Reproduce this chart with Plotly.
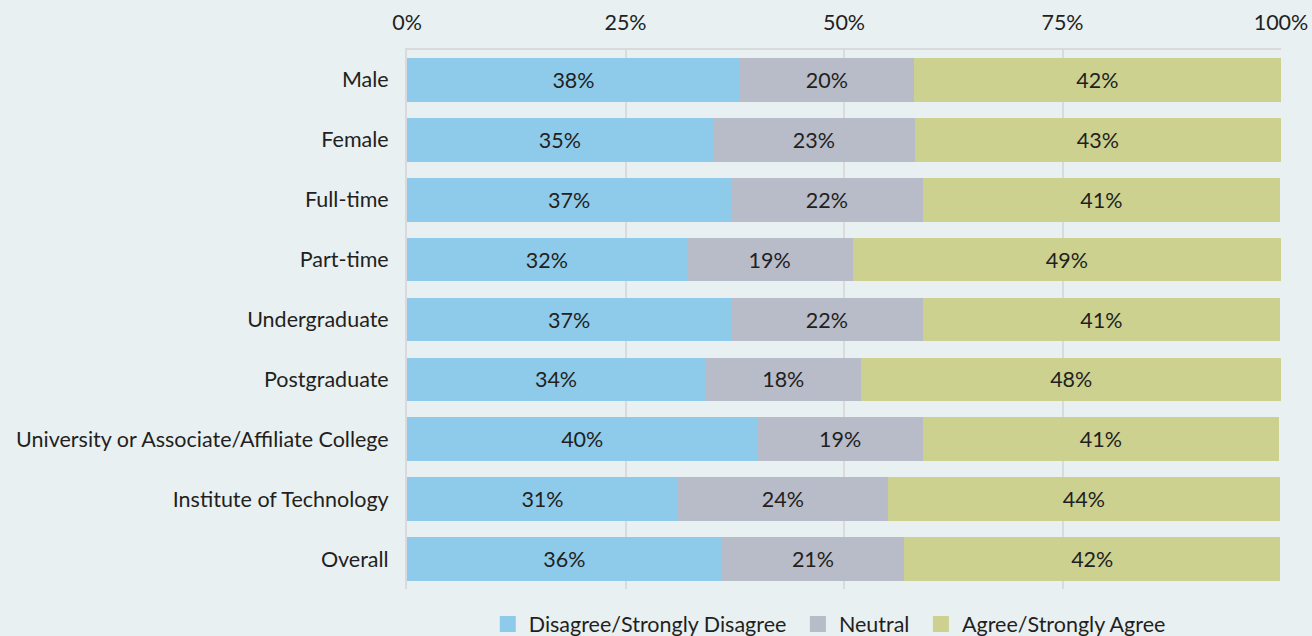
import plotly.graph_objects as go

categories = [
    "Male", "Female", "Full-time", "Part-time", "Undergraduate", "Postgraduate",
    "University or Associate/Affiliate College", "Institute of Technology", "Overall",
]
series_names = ["Disagree/Strongly Disagree", "Neutral", "Agree/Strongly Agree"]

# bar widths (percent)
disagree = [38.1, 35.0, 37.1, 32.0, 37.1, 34.1, 40.1, 31.0, 36.0]
neutral = [19.9, 23.1, 21.9, 19.0, 21.9, 17.9, 18.9, 24.0, 20.9]
agree = [42.0, 41.9, 40.9, 49.0, 40.9, 48.0, 40.8, 44.9, 43.0]

# printed labels
disagree_lbl = ["38%", "35%", "37%", "32%", "37%", "34%", "40%", "31%", "36%"]
neutral_lbl = ["20%", "23%", "22%", "19%", "22%", "18%", "19%", "24%", "21%"]
agree_lbl = ["42%", "43%", "41%", "49%", "41%", "48%", "41%", "44%", "42%"]

tick_vals = [0, 25, 50, 75, 100]
tick_text = ["0%", "25%", "50%", "75%", "100%"]

BG = "#e8f0f2"
GRID = "#d8dadc"
TEXT = "#231f20"
FONT = "Lato"
SIZE = 21.5
colors = ["#8ecbeb", "#b8bbc8", "#ccd190"]

fig = go.Figure()
for name, vals, lbls, col in zip(series_names, [disagree, neutral, agree],
                                 [disagree_lbl, neutral_lbl, agree_lbl], colors):
    fig.add_trace(go.Bar(
        y=categories,
        x=vals,
        name=name,
        orientation="h",
        marker=dict(color=col, line=dict(width=0)),
        text=lbls,
        textposition="inside",
        insidetextanchor="middle",
        textfont=dict(size=SIZE, color=TEXT, family=FONT),
        constraintext="none",
        width=0.73,
        showlegend=False,
    ))
    # legend swatch (bigger square than the default bar icon)
    fig.add_trace(go.Scatter(
        x=[None], y=[None],
        mode="markers",
        name=name + "\u00a0",
        marker=dict(symbol="square", size=17, color=col),
        showlegend=True,
    ))

fig.update_layout(
    width=1312,
    height=636,
    barmode="stack",
    margin=dict(t=50, b=47, l=407, r=31, autoexpand=False),
    paper_bgcolor=BG,
    plot_bgcolor=BG,
    font=dict(family=FONT, size=SIZE, color=TEXT),
    xaxis=dict(
        side="top",
        range=[0, 100],
        tickvals=tick_vals,
        ticktext=tick_text,
        showgrid=True,
        gridcolor=GRID,
        gridwidth=2,
        showline=True,
        linecolor=GRID,
        linewidth=2,
        zeroline=False,
        ticks="",
        ticklabelstandoff=9,
        automargin=False,
        tickfont=dict(size=SIZE, color=TEXT, family=FONT),
    ),
    yaxis=dict(
        autorange="reversed",
        showline=True,
        linecolor=GRID,
        linewidth=2,
        showgrid=False,
        ticks="",
        ticklabelstandoff=12,
        automargin=False,
        tickfont=dict(size=SIZE, color=TEXT, family=FONT),
    ),
    legend=dict(
        orientation="h",
        x=0.486,
        xanchor="center",
        y=-0.065,
        yanchor="middle",
        bgcolor="rgba(0,0,0,0)",
        font=dict(size=SIZE, color=TEXT, family=FONT),
        traceorder="normal",
        itemwidth=32,
    ),
)

fig.write_html(
    "out.html",
    config={"displayModeBar": False},
    post_script="document.body.style.margin='0';",
)
